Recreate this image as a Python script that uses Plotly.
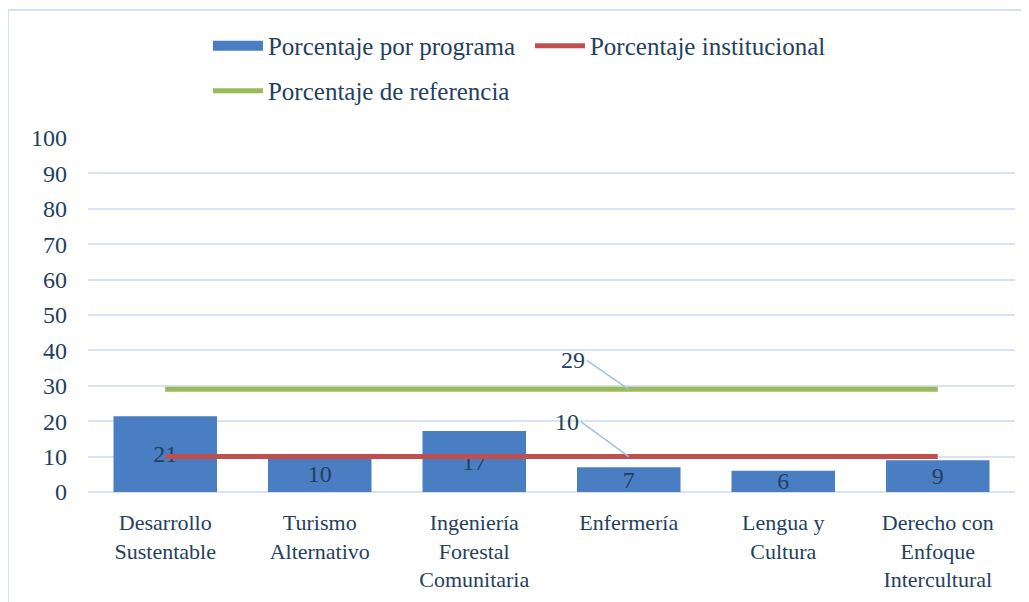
import plotly.graph_objects as go

categories = ["Desarrollo<br>Sustentable", "Turismo<br>Alternativo", "Ingeniería<br>Forestal<br>Comunitaria",
              "Enfermería", "Lengua y<br>Cultura", "Derecho con<br>Enfoque<br>Intercultural"]
programa = [21.4, 10, 17.2, 7, 6, 9]
institucional = [10, 10, 10, 10, 10, 10]
referencia = [29, 29, 29, 29, 29, 29]
y_ticks = [0, 10, 20, 30, 40, 50, 60, 70, 80, 90, 100]

FONT = "Liberation Serif, DejaVu Serif, serif"
TXT = "#243F60"
GRID = "#D9E2F3"
BLUE = "#4A7EC2"

fig = go.Figure()
fig.add_trace(go.Bar(
    x=categories, y=programa, name="Porcentaje por programa",
    marker=dict(color=BLUE, line=dict(width=0)),
    width=0.67, showlegend=False,
    text=[f"{v:.0f}" for v in programa], textposition="inside", textangle=0,
    insidetextanchor="middle", constraintext="none",
    textfont=dict(family=FONT, size=24, color=TXT),
))
# legend proxy for the bar series (wide rectangle swatch)
fig.add_trace(go.Scatter(
    x=[None], y=[None], name="Porcentaje por programa", mode="lines",
    line=dict(color=BLUE, width=14), legend="legend",
))
fig.add_trace(go.Scatter(
    x=categories, y=institucional, name="Porcentaje institucional", mode="lines",
    line=dict(color="#C0504D", width=5), legend="legend",
))
fig.add_trace(go.Scatter(
    x=categories, y=referencia, name="Porcentaje de referencia", mode="lines",
    line=dict(color="#9BBB59", width=5), legend="legend2",
))

for series, ax, ay in [(referencia, -42, -29), (institucional, -48, -35)]:
    fig.add_annotation(
        x=categories[3], y=series[3], text=f"{series[3]}",
        showarrow=True, arrowhead=0, arrowwidth=1.5, arrowcolor="#9DC3E6",
        ax=ax, ay=ay, xanchor="right", yanchor="middle",
        font=dict(family=FONT, size=24, color=TXT),
    )

fig.add_shape(type="rect", xref="paper", yref="paper",
              x0=-0.0863, x1=1.1, y0=-0.5, y1=1.3616,
              line=dict(color="#D6E2F3", width=2), fillcolor="rgba(0,0,0,0)", layer="below")

leg_common = dict(orientation="h", xanchor="left", yanchor="top",
                  entrywidth=257, entrywidthmode="pixels", itemwidth=50,
                  font=dict(family=FONT, size=25, color=TXT), bgcolor="rgba(0,0,0,0)")

fig.update_layout(
    width=1029, height=602,
    margin=dict(l=80, r=22, t=130, b=118, autoexpand=False),
    paper_bgcolor="white", plot_bgcolor="white",
    font=dict(family=FONT, size=24, color=TXT),
    bargap=0.33,
    showlegend=True,
    legend=dict(x=0.1294, y=1.325, **leg_common),
    legend2=dict(x=0.1294, y=1.198, **leg_common),
    xaxis=dict(showgrid=False, showline=False, ticks="", ticklabelstandoff=15,
               tickfont=dict(size=22, color=TXT)),
    yaxis=dict(range=[0, 100], tickvals=y_ticks, showgrid=True, gridcolor=GRID, gridwidth=2,
               zeroline=True, zerolinecolor=GRID, zerolinewidth=2, ticks="", ticklen=0,
               ticklabelstandoff=20, tickfont=dict(size=24, color=TXT)),
)

fig.write_html("out.html")
